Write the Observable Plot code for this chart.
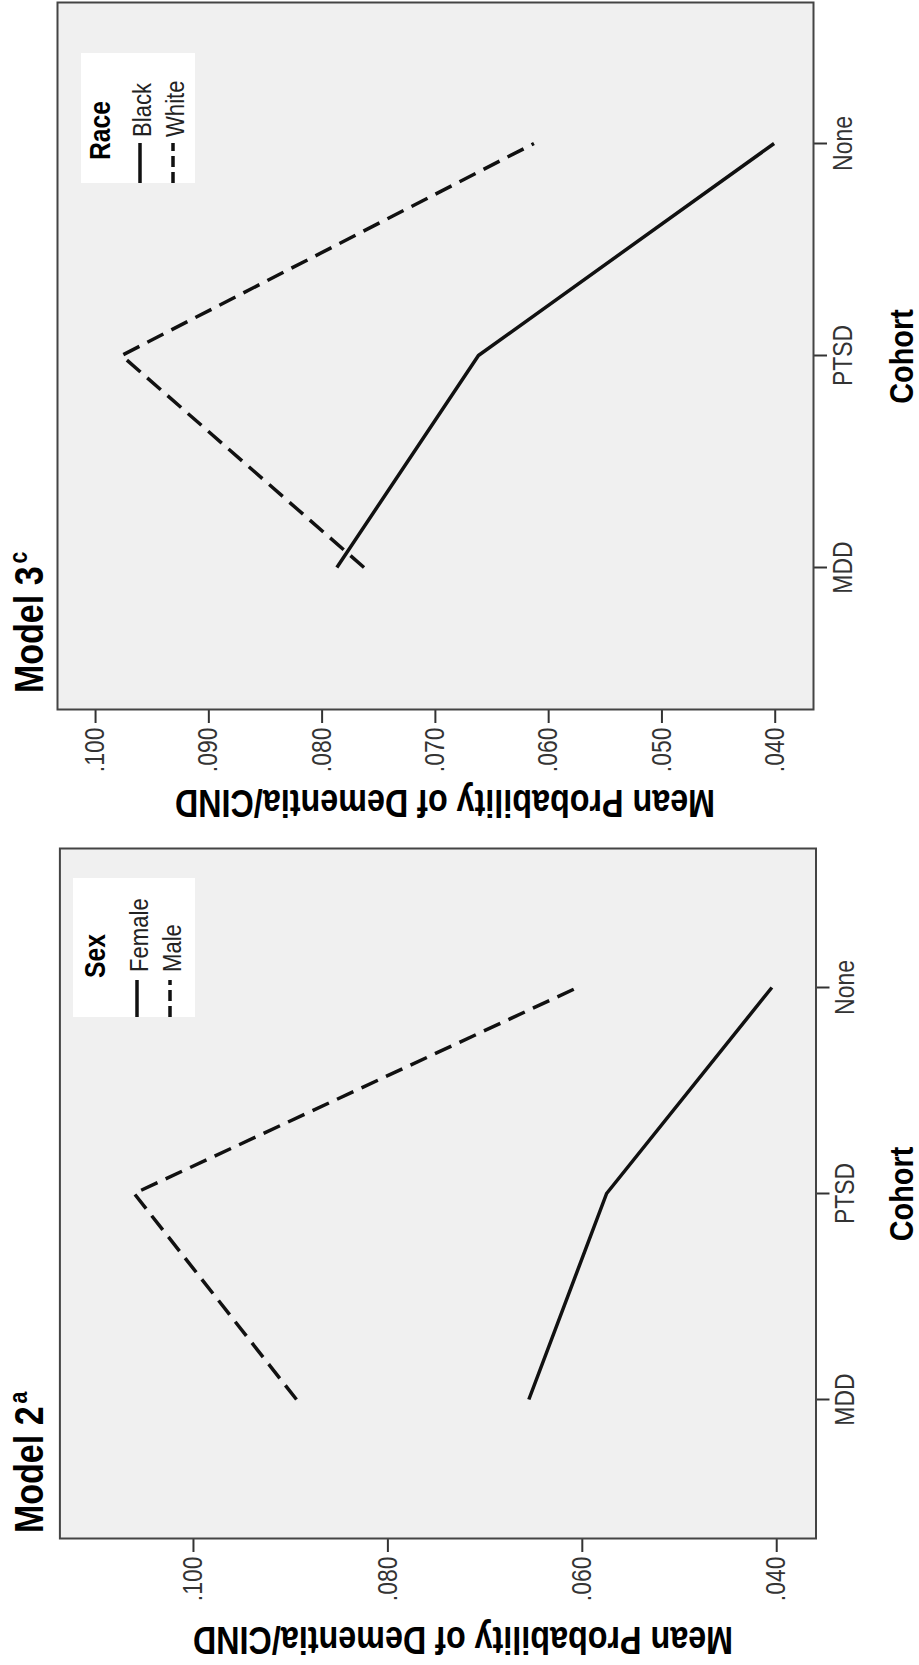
<!DOCTYPE html>
<html><head><meta charset="utf-8">
<script src="https://cdn.jsdelivr.net/npm/d3@7"></script>
<script src="https://cdn.jsdelivr.net/npm/@observablehq/plot@0.6"></script>
<style>
html,body{margin:0;padding:0;width:919px;height:1665px;overflow:hidden;background:#fff;}
#fig{position:absolute;left:0;top:0;width:1665px;height:919px;transform-origin:0 0;transform:translate(0px,1665px) rotate(-90deg);font-family:"Liberation Sans",Arial,sans-serif;}
#fig svg{position:absolute;top:0;overflow:visible;}
</style></head><body><div id="fig"></div>
<script>
// ---- data ----
const cohorts = ["MDD", "PTSD", "None"];
const sexGroups = ["Female", "Male"];
const sexFemale = [0.0655, 0.0575, 0.0405];
const sexMale = [0.0894, 0.1061, 0.0605];
const raceGroups = ["Black", "White"];
const raceBlack = [0.0787, 0.0662, 0.0401];
const raceWhite = [0.0763, 0.0977, 0.0613];
const ticksModel2 = [0.04, 0.06, 0.08, 0.10];
const ticksModel3 = [0.04, 0.05, 0.06, 0.07, 0.08, 0.09, 0.10];
const yTitle = "Mean Probability of Dementia/CIND";
const xTitle = "Cohort";

const FONT = "Liberation Sans, Arial, sans-serif";

function deco(cfg) {
  return (index, scales, values, dims) => {
    const g = d3.create("svg:g").attr("font-family", FONT);
    const W = dims.width, fl = dims.marginLeft, fr = W - dims.marginRight;
    // title
    g.append("text").attr("class", "ttl").attr("x", cfg.titleX).attr("y", 43).attr("text-anchor", "start")
      .attr("font-size", 40).attr("font-weight", "bold").attr("fill", "#000").text(cfg.title);
    g.append("text").attr("class", "sup").attr("x", cfg.titleX).attr("y", 27).attr("text-anchor", "start")
      .attr("font-size", 25).attr("font-weight", "bold").attr("fill", "#000").text(cfg.sup);
    // y title
    g.append("text").attr("transform", `translate(${cfg.yTitleX},${cfg.yTitleY}) rotate(-90)`)
      .attr("text-anchor", "middle").attr("font-size", 38).attr("font-weight", "bold").attr("fill", "#000").text(yTitle);
    // x title
    g.append("text").attr("x", (fl + fr) / 2).attr("y", 913).attr("text-anchor", "middle")
      .attr("font-size", 34).attr("font-weight", "bold").attr("fill", "#000").text(xTitle);
    // legend
    const L = cfg.legend;
    g.append("rect").attr("x", L.x).attr("y", L.y).attr("width", L.w).attr("height", L.h).attr("fill", "#fff");
    g.append("text").attr("x", L.titleX).attr("y", L.y + L.titleDy).attr("text-anchor", "start")
      .attr("font-size", 29).attr("font-weight", "bold").attr("fill", "#000").text(cfg.legendTitle);
    cfg.groups.forEach((name, i) => {
      const yy = L.y + L.row0 + i * 33;
      g.append("line").attr("x1", L.x).attr("x2", L.x + L.sw).attr("y1", yy).attr("y2", yy)
        .attr("stroke", "#111").attr("stroke-width", 3.5).attr("stroke-dasharray", i ? "11,5" : null);
      g.append("text").attr("x", L.x + L.textDx).attr("y", yy + 11).attr("text-anchor", "start")
        .attr("font-size", 26).attr("fill", "#222").text(name);
    });
    return g.node();
  };
}

function makePanel(cfg) {
  const data = [];
  cfg.groups.forEach((grp, gi) => cohorts.forEach((c, ci) => data.push({cohort: c, value: cfg.series[gi][ci], group: grp})));
  const plot = Plot.plot({
    width: cfg.width, height: 919,
    marginLeft: cfg.mL, marginRight: cfg.mR, marginTop: cfg.mT, marginBottom: cfg.mB,
    style: {fontFamily: FONT, color: "#333", background: "transparent", overflow: "visible"},
    x: {type: "point", domain: cohorts, padding: cfg.pad},
    y: {domain: cfg.yDomain},
    marks: [
      Plot.frame({fill: "#f0f0f0"}),
      Plot.axisY({ticks: cfg.yTicks, tickFormat: d => d.toFixed(3).slice(1), tickSize: 13, tickPadding: 5, fontSize: 27, strokeWidth: 2, label: null}),
      Plot.axisX({tickSize: 14, tickPadding: 5, fontSize: 27, strokeWidth: 2, label: null}),
      Plot.line(data.filter(d => d.group === cfg.groups[0]), {x: "cohort", y: "value", stroke: "#111", strokeWidth: 3.5, strokeLinejoin: "miter", strokeLinecap: "butt"}),
      Plot.line(data.filter(d => d.group === cfg.groups[1]), {x: "cohort", y: "value", stroke: "#111", strokeWidth: 3.5, strokeLinejoin: "miter", strokeLinecap: "butt", strokeDasharray: "18,9"}),
      Plot.frame({stroke: "#444", strokeWidth: 2}),
      deco(cfg)
    ]
  });
  plot.style.left = cfg.left + "px";
  document.getElementById("fig").appendChild(plot);
  return plot;
}

makePanel({
  left: 0, width: 840, mL: 126, mR: 24, mT: 59.4, mB: 103.5, pad: 0.667,
  yDomain: [0.03596, 0.11374], yTicks: ticksModel2,
  series: [sexFemale, sexMale], groups: sexGroups, legendTitle: "Sex",
  title: "Model 2", sup: "a", titleX: 132, yTitleX: 38, yTitleY: 463,
  legend: {x: 648, y: 73, w: 139, h: 122, titleX: 687, titleDy: 32, row0: 64, sw: 37, textDx: 45}
});
makePanel({
  left: 840, width: 825, mL: 115, mR: 3, mT: 57, mB: 106, pad: 0.665,
  yDomain: [0.03662, 0.10336], yTicks: ticksModel3,
  series: [raceBlack, raceWhite], groups: raceGroups, legendTitle: "Race",
  title: "Model 3", sup: "c", titleX: 132, yTitleX: 35, yTitleY: 445,
  legend: {x: 642, y: 81, w: 130, h: 114, titleX: 665, titleDy: 29, row0: 59, sw: 40, textDx: 46}
});

// condense all text (the source uses a narrow face)
const K = 0.85;
document.querySelectorAll("#fig text").forEach(t => {
  if (t.getAttribute("class") === "sup") return;
  const len = t.getComputedTextLength();
  if (len > 0) {
    t.setAttribute("textLength", (len * K).toFixed(2));
    t.setAttribute("lengthAdjust", "spacingAndGlyphs");
    t.__sq = len * K;
  }
});
document.querySelectorAll("#fig text.sup").forEach(s => {
  const ttl = s.parentNode.querySelector("text.ttl");
  s.setAttribute("x", +ttl.getAttribute("x") + ttl.__sq + 3);
  const len = s.getComputedTextLength();
  s.setAttribute("textLength", (len * K).toFixed(2));
  s.setAttribute("lengthAdjust", "spacingAndGlyphs");
});
</script>
</body></html>
